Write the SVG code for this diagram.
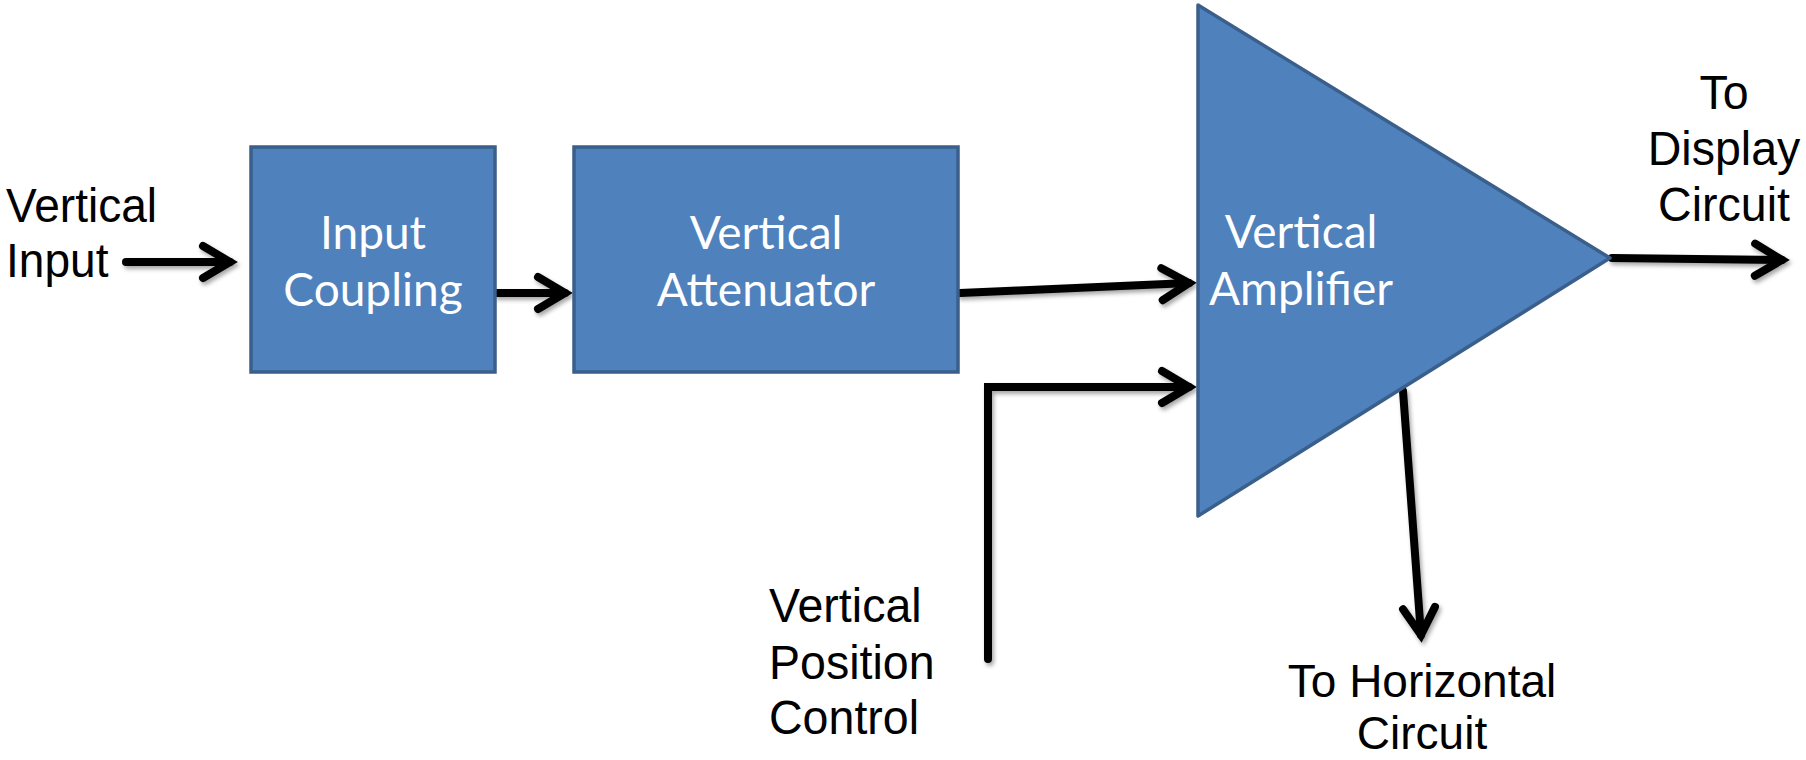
<svg xmlns="http://www.w3.org/2000/svg" width="1806" height="760" viewBox="0 0 1806 760">
<style>
.box{fill:#4F81BD;stroke:#3A5F8B;stroke-width:3.5}
.in{font-family:Lato,"Open Sans",sans-serif;font-size:46px;fill:#ffffff;text-anchor:middle}
.lb{font-family:"Liberation Sans",Arial,sans-serif;font-size:49px;fill:#000000}
.ln{fill:none;stroke:#000000;stroke-width:8;stroke-linecap:round;stroke-linejoin:miter}
</style>
<defs>
<filter id="sh" x="-20%" y="-20%" width="140%" height="140%">
<feDropShadow dx="2" dy="3" stdDeviation="2" flood-color="#000000" flood-opacity="0.35"/>
</filter>
<marker id="ah" markerUnits="userSpaceOnUse" viewBox="-40 -25 52 50" refX="0" refY="0" markerWidth="52" markerHeight="50" orient="auto">
<path d="M -27 -16 L 0 0 L -27 16" fill="none" stroke="#000000" stroke-width="8" stroke-linecap="round" stroke-linejoin="miter"/>
</marker>
</defs>

<g id="connectors" filter="url(#sh)">
<line class="ln" x1="126" y1="262" x2="230" y2="262" marker-end="url(#ah)"/>
<line class="ln" x1="497" y1="293" x2="565" y2="293" marker-end="url(#ah)"/>
<line class="ln" x1="960" y1="293" x2="1189" y2="283" marker-end="url(#ah)"/>
<polyline class="ln" points="988,659 988,387 1189,387" stroke-linecap="butt" marker-end="url(#ah)"/>
<line class="ln" x1="1612" y1="258" x2="1782" y2="260" marker-end="url(#ah)"/>
<line class="ln" x1="1403" y1="391" x2="1421" y2="635" marker-end="url(#ah)"/>
</g>

<g id="input-coupling">
<rect class="box" x="251" y="147" width="244" height="225"/>
<text class="in" x="373" y="249">Input</text>
<text class="in" x="373" y="306">Coupling</text>
</g>

<g id="vertical-attenuator">
<rect class="box" x="574" y="147" width="384" height="225"/>
<text class="in" x="766" y="249">Vertical</text>
<text class="in" x="766" y="306">Attenuator</text>
</g>

<g id="vertical-amplifier">
<polygon class="box" points="1198,5 1610,258 1198,516" stroke-linejoin="round"/>
<text class="in" x="1301" y="248">Vertical</text>
<text class="in" x="1301" y="305">Amplifier</text>
</g>

<g id="label-vertical-input" transform="translate(6,0) scale(0.94,1)">
<text class="lb" x="0" y="222">Vertical</text>
<text class="lb" x="0" y="277">Input</text>
</g>

<g id="label-display" transform="translate(1724,0) scale(0.95,1)">
<text class="lb" x="0" y="109" text-anchor="middle">To</text>
<text class="lb" x="0" y="165" text-anchor="middle">Display</text>
<text class="lb" x="0" y="221" text-anchor="middle">Circuit</text>
</g>

<g id="label-position" transform="translate(769,0) scale(0.95,1)">
<text class="lb" x="0" y="622">Vertical</text>
<text class="lb" x="0" y="679">Position</text>
<text class="lb" x="0" y="734">Control</text>
</g>

<g id="label-horizontal" transform="translate(1422,0)">
<text class="lb" x="0" y="697" text-anchor="middle" style="font-size:46px">To Horizontal</text>
<text class="lb" x="0" y="749" text-anchor="middle" style="font-size:46px">Circuit</text>
</g>
</svg>
